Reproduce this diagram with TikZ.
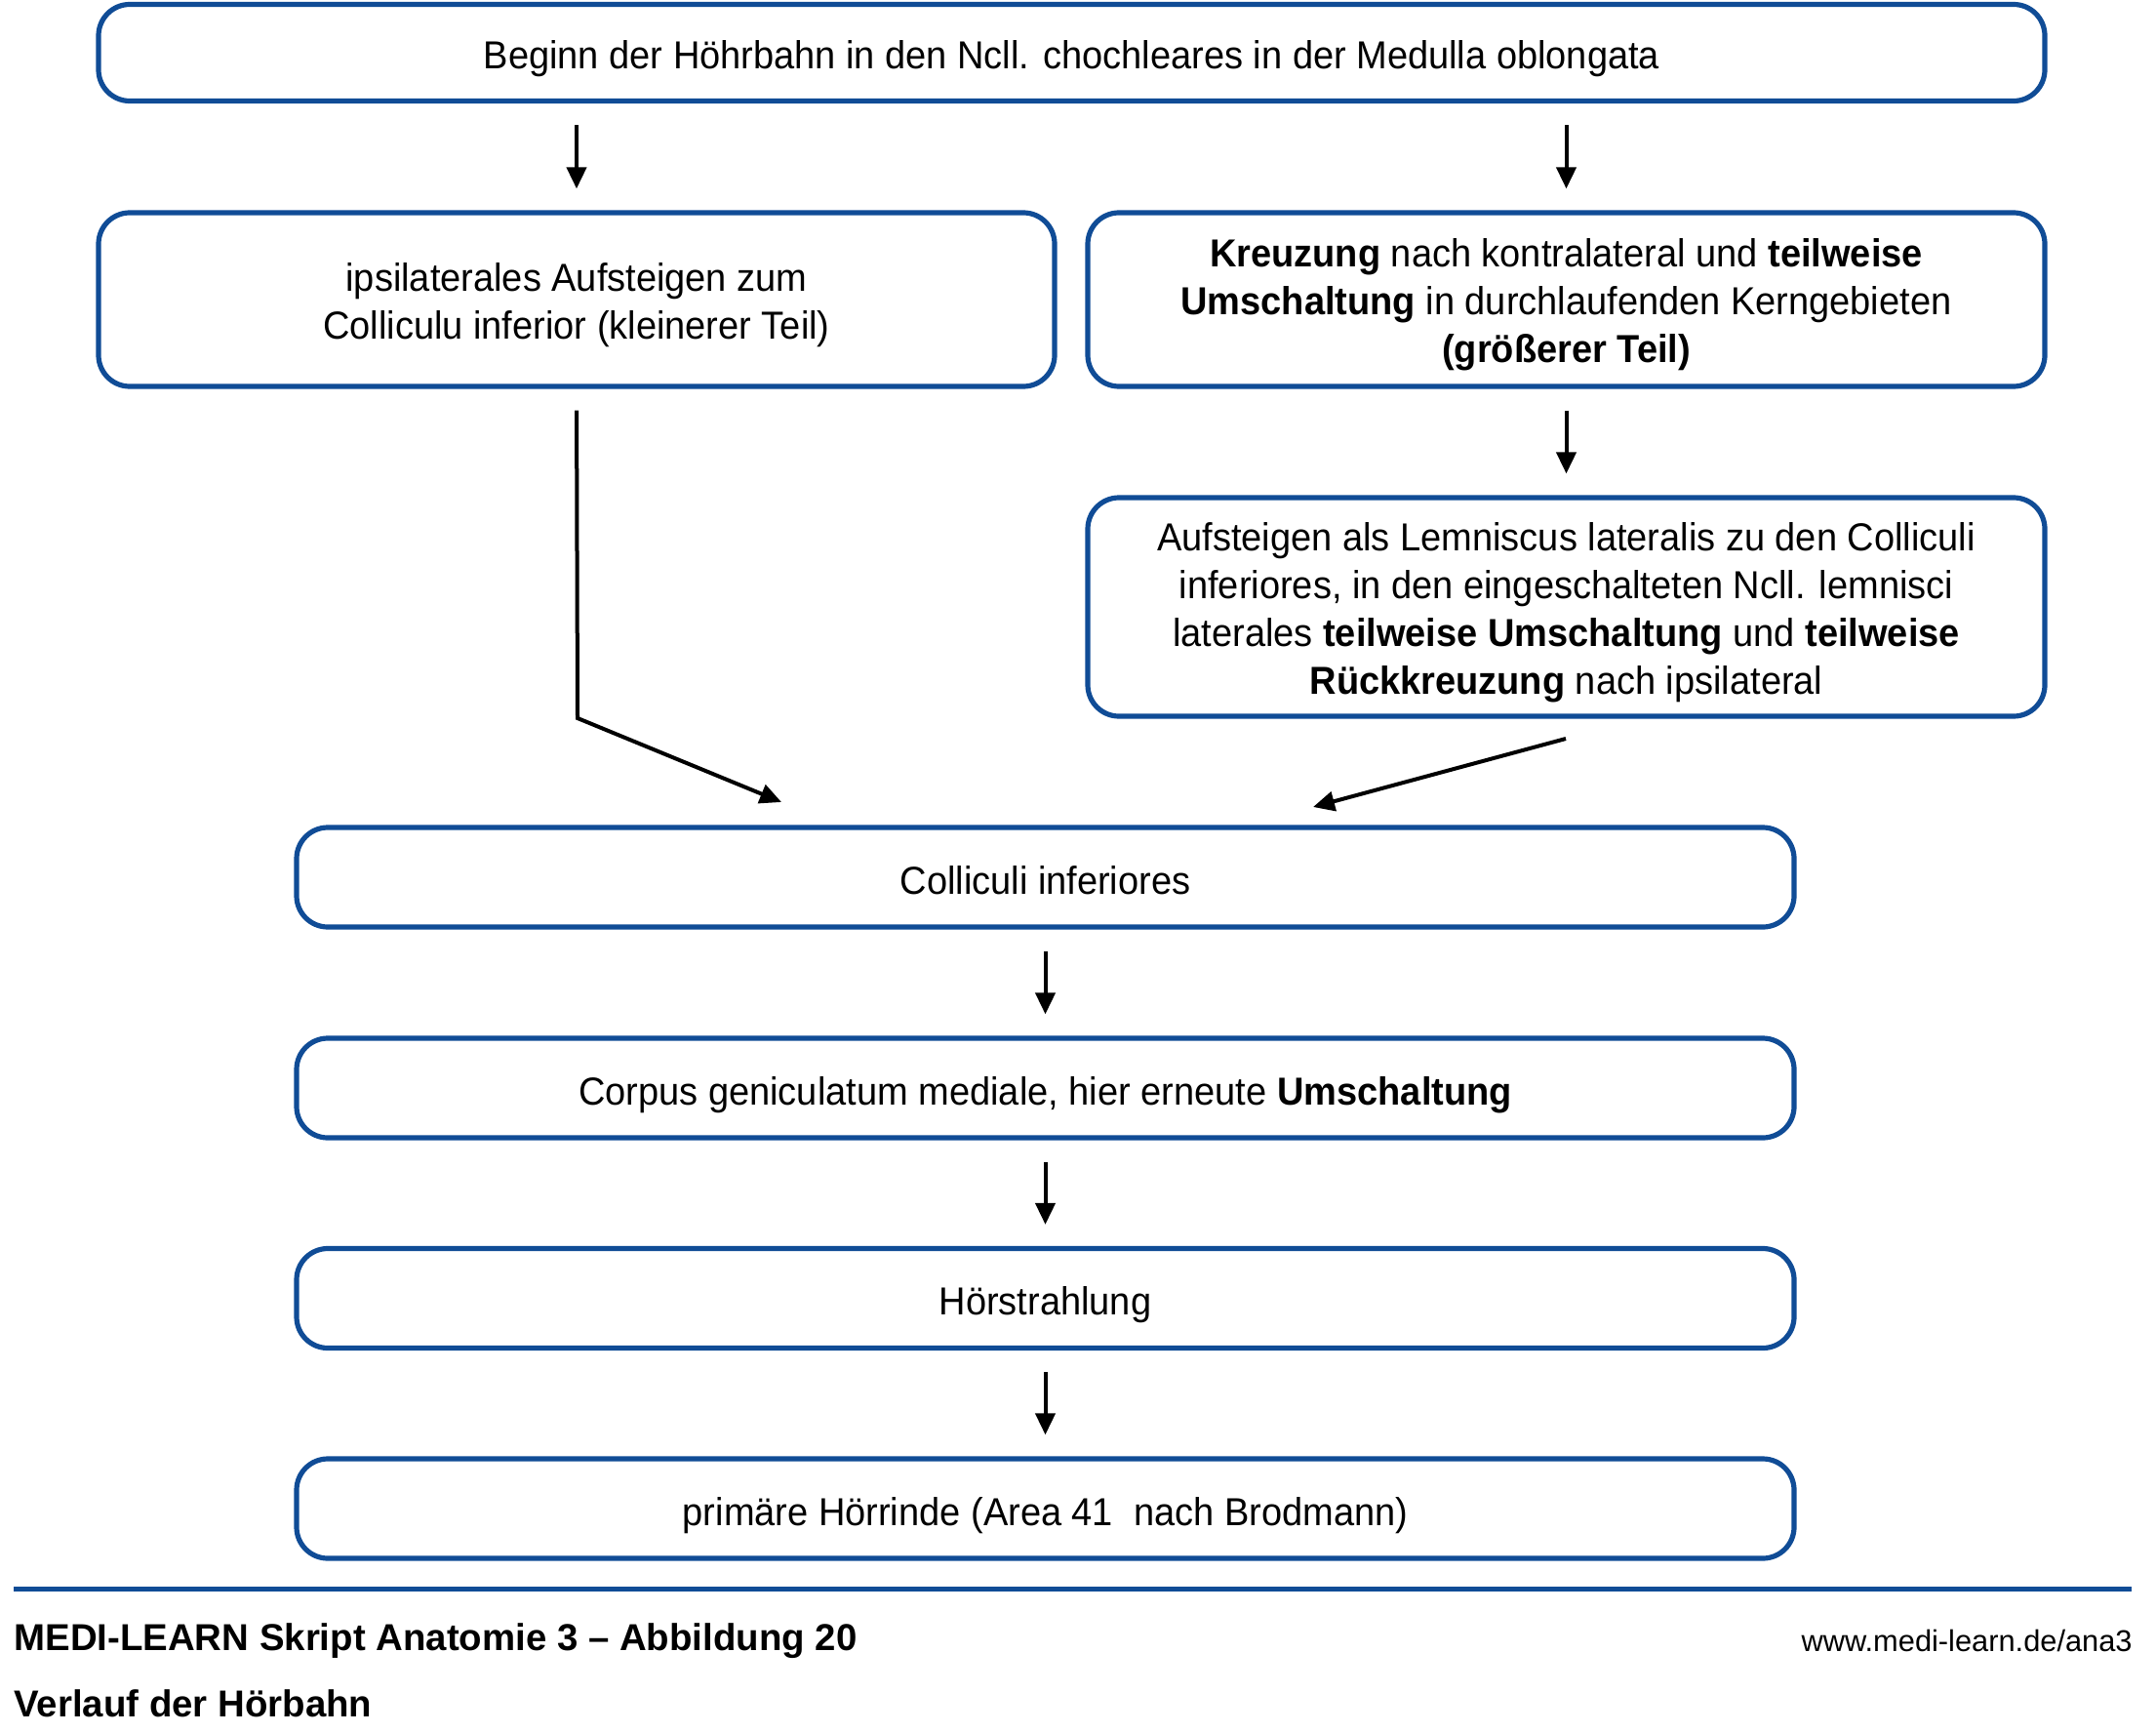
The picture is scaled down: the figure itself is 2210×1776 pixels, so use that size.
\documentclass[tikz,border=0pt]{standalone}
\usepackage{fontspec}
\setmainfont{Liberation Sans}[FakeStretch=0.95]
\newfontfamily\footfont{Liberation Sans}
\usetikzlibrary{arrows.meta}
\definecolor{mlblue}{RGB}{16,76,150}
\newcommand{\firststrut}{\rule{0pt}{20pt}}
\begin{document}
\begin{tikzpicture}[x=0.5pt,y=-0.5pt,
  boxm/.style={draw=mlblue, line width=2.6pt, rounded corners=16pt, fill=white,
    inner sep=0pt, align=center, font=\fontsize{20}{24.5}\selectfont},
  box/.style={boxm, text height=19pt, text depth=2pt},
  arr/.style={line width=2pt, -{Triangle[length=11pt,width=10pt]}},
  gap/.style={shorten <=11pt, shorten >=11pt},
  foot/.style={inner sep=0pt, font=\footfont\bfseries\fontsize{19.2}{22}\selectfont},
]
\useasboundingbox (0,0) rectangle (2210,1776);

\node[box, minimum width=997.5pt, minimum height=49.5pt] (b1) at (1098.5,54)
  {Beginn der Höhrbahn in den Ncll. chochleares in der Medulla oblongata};
\node[boxm, minimum width=490pt, minimum height=89pt] (b2l) at (591,307)
  {\firststrut ipsilaterales Aufsteigen zum\\Colliculu inferior (kleinerer Teil)};
\node[boxm, minimum width=490.5pt, minimum height=89pt] (b2r) at (1605.5,307)
  {\firststrut\textbf{Kreuzung} nach kontralateral und \textbf{teilweise}\\\textbf{Umschaltung} in durchlaufenden Kerngebieten\\\textbf{(größerer Teil)}};
\node[boxm, minimum width=490.5pt, minimum height=112pt] (b3r) at (1605.5,622)
  {\firststrut Aufsteigen als Lemniscus lateralis zu den Colliculi\\inferiores, in den eingeschalteten Ncll. lemnisci\\laterales \textbf{teilweise Umschaltung} und \textbf{teilweise}\\\textbf{Rückkreuzung} nach ipsilateral};
\node[box, minimum width=767.5pt, minimum height=51pt] (b4) at (1071.5,899)
  {Colliculi inferiores};
\node[box, minimum width=767.5pt, minimum height=51pt] (b5) at (1071.5,1115)
  {Corpus geniculatum mediale, hier erneute \textbf{Umschaltung}};
\node[box, minimum width=767.5pt, minimum height=51pt] (b6) at (1071.5,1330.5)
  {Hörstrahlung};
\node[box, minimum width=767.5pt, minimum height=51pt] (b7) at (1071.5,1546)
  {primäre Hörrinde (Area 41\ \ nach Brodmann)};

\draw[arr, gap] (b1.south -| b2l.north) -- (b2l.north);
\draw[arr, gap] (b1.south -| b2r.north) -- (b2r.north);
\draw[arr, gap] (b2r.south) -- (b3r.north);
\draw[arr, gap] (b4.south) -- (b5.north);
\draw[arr, gap] (b5.south) -- (b6.north);
\draw[arr, gap] (b6.south) -- (b7.north);

\coordinate (bendL) at (592,736);
\coordinate (tipL) at (801,822);
\draw[arr, shorten <=11pt] (b2l.south) -- (bendL) -- (tipL);
\coordinate (startR) at (1605,757);
\coordinate (tipR) at (1346,827);
\draw[arr] (startR) -- (tipR);

\coordinate (ruleL) at (14,1628);
\coordinate (ruleR) at (2185,1628);
\draw[mlblue, line width=2.5pt] (ruleL) -- (ruleR);

\node[foot, anchor=base west] (f1) at (14,1691) {MEDI-LEARN Skript Anatomie 3 – Abbildung 20};
\node[foot, anchor=base west] (f2) at (14,1759) {Verlauf der Hörbahn};
\node[inner sep=0pt, anchor=base east, font=\footfont\fontsize{15.4}{18}\selectfont] (f3) at (2186,1692) {www.medi-learn.de/ana3};
\end{tikzpicture}
\end{document}
